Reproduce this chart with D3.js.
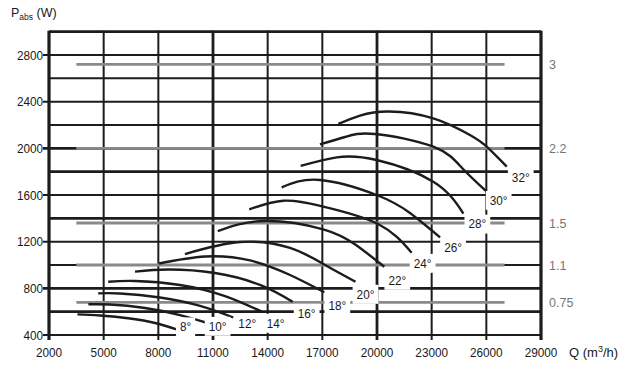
<!DOCTYPE html>
<html>
<head>
<meta charset="utf-8">
<script src="https://cdn.jsdelivr.net/npm/d3@7"></script>
<style>
body { margin: 0; background: #fff; }
text { font-family: "Liberation Sans", Arial, sans-serif; fill: #1a1a1a; }
</style>
</head>
<body>
<div id="chart"></div>
<script>
const W = 633, H = 367
const SX = 0.87 // the printed digits are condensed

// axes
const qTicks = [2000, 5000, 8000, 11000, 14000, 17000, 20000, 23000, 26000, 29000]
const pTicks = [400, 800, 1200, 1600, 2000, 2400, 2800]
const pGrid = [400, 600, 800, 1000, 1200, 1400, 1600, 1800, 2000, 2200, 2400, 2600, 2800, 3000]

// motor limits (kW) and absorbed power lines (W)
const motorKw = ['3', '2.2', '1.5', '1.1', '0.75']
const motorW = [2720, 2000, 1360, 1000, 680]
const motorQ = [3500, 27000]

// blade angle curves [Q m3/h, Pabs W]
const angles = [8, 10, 12, 14, 16, 18, 20, 22, 24, 26, 28, 30, 32]
const c8 = [[3560, 577], [4800, 567], [6450, 541], [7820, 503], [9000, 449]]
const c10 = [[4160, 663], [5350, 661], [7270, 631], [9190, 571], [10650, 505]]
const c12 = [[4700, 757], [5900, 756], [8090, 721], [10290, 649], [12110, 550]]
const c14 = [[5250, 857], [6720, 863], [9190, 829], [11660, 734], [13670, 600]]
const c16 = [[6720, 943], [8530, 961], [11110, 931], [13580, 829], [15370, 685]]
const c18 = [[8040, 1013], [10560, 1073], [13030, 1039], [15230, 914], [17110, 766]]
const c20 = [[9460, 1094], [12480, 1197], [15230, 1146], [17150, 1000], [18820, 857]]
const c22 = [[11260, 1291], [13800, 1377], [17050, 1306], [18850, 1171], [20400, 985]]
const c24 = [[12990, 1477], [14860, 1551], [17050, 1500], [20060, 1351], [21900, 1105]]
const c26 = [[14770, 1666], [16870, 1729], [19980, 1600], [21810, 1446], [23460, 1237]]
const c28 = [[15810, 1849], [17790, 1923], [19980, 1900], [23090, 1714], [24740, 1441]]
const c30 = [[16870, 2034], [18240, 2097], [19890, 2123], [23090, 2014], [24670, 1831], [26020, 1628]]
const c32 = [[17880, 2209], [19070, 2281], [20660, 2316], [23090, 2257], [25100, 2114], [26020, 2014], [27120, 1843]]
const curves = [c8, c10, c12, c14, c16, c18, c20, c22, c24, c26, c28, c30, c32]

// label offset from the curve end, px
const labelOff = [[9, -3], [11, 3], [14, 6], [14, 11], [14, 11], [13, 13], [10, 12], [13, 13], [11, 10], [13, 10], [14, 10], [12, 8], [14, 10]]

const heavyP = [600, 800, 1400, 1800, 2000]
const heavyQ = [11000, 20000]

const svg = d3.select('#chart').append('svg')
	.attr('width', W)
	.attr('height', H)

const x = d3.scaleLinear().domain([2000, 29000]).range([49, 541])
const y = d3.scaleLinear().domain([400, 3000]).range([335, 31.67])

const ink = '#1c1c1c'

// grid
svg.append('g').selectAll('line')
	.data(pGrid)
	.join('line')
	.attr('x1', d => pTicks.includes(d) ? 43 : x(2000))
	.attr('x2', x(29000))
	.attr('y1', d => y(d)).attr('y2', d => y(d))
	.attr('stroke', ink)
	.attr('stroke-width', d => (heavyP.includes(d) || d === 3000) ? 2.8 : 2)

svg.append('g').selectAll('line')
	.data(qTicks)
	.join('line')
	.attr('x1', d => x(d)).attr('x2', d => x(d))
	.attr('y1', y(3000) - 1)
	.attr('y2', y(400) + 5)
	.attr('stroke', ink)
	.attr('stroke-width', d => (d === 2000 || d === 29000) ? 3.2 : heavyQ.includes(d) ? 2.8 : 2)

// motor power lines
svg.append('g').selectAll('line')
	.data(motorW)
	.join('line')
	.attr('x1', x(motorQ[0])).attr('x2', x(motorQ[1]))
	.attr('y1', d => y(d)).attr('y2', d => y(d))
	.attr('stroke', '#8a8a8a')
	.attr('stroke-width', 2.8)

svg.append('g').selectAll('text')
	.data(motorW)
	.join('text')
	.attr('x', 549)
	.attr('y', d => y(d) + 4.5)
	.attr('font-size', '12.5px')
	.style('fill', '#767676')
	.text((d, i) => motorKw[i])

// curves
const line = d3.line()
	.x(d => x(d[0]))
	.y(d => y(d[1]))
	.curve(d3.curveNatural)

svg.append('g').selectAll('path')
	.data(curves)
	.join('path')
	.attr('d', line)
	.attr('fill', 'none')
	.attr('stroke', ink)
	.attr('stroke-width', 2.4)

// angle labels with white boxes
curves.forEach((c, i) => {
	const end = c[c.length - 1]
	const g = svg.append('g')
		.attr('transform', `translate(${x(end[0]) + labelOff[i][0]}, ${y(end[1]) + labelOff[i][1]})`)
	g.append('text')
		.attr('transform', `scale(${SX},1)`)
		.attr('text-anchor', 'middle')
		.attr('dy', '0.36em')
		.attr('font-size', '13.5px')
		.text(angles[i] + '°')
	const bb = g.node().getBBox()
	g.insert('rect', 'text')
		.attr('x', bb.x - 4).attr('y', bb.y - 2)
		.attr('width', bb.width + 8).attr('height', bb.height + 4)
		.attr('fill', '#fff')
})

// tick labels
svg.append('g').selectAll('text')
	.data(qTicks)
	.join('text')
	.attr('transform', d => `translate(${x(d)}, 356.5) scale(${SX},1)`)
	.attr('text-anchor', 'middle')
	.attr('font-size', '13.5px')
	.text(d => d)

svg.append('g').selectAll('text')
	.data(pTicks)
	.join('text')
	.attr('transform', d => `translate(43, ${y(d) + 4.8}) scale(${SX},1)`)
	.attr('text-anchor', 'end')
	.attr('font-size', '13.5px')
	.text(d => d)

// axis titles
const yt = svg.append('text')
	.attr('x', 11).attr('y', 17)
	.attr('font-size', '12.5px')
yt.append('tspan').text('P')
yt.append('tspan').attr('font-size', '8.5px').attr('dy', 3).text('abs')
yt.append('tspan').attr('dy', -3).text(' (W)')

const xt = svg.append('text')
	.attr('x', 569).attr('y', 357)
	.attr('font-size', '13px')
xt.append('tspan').text('Q (m')
xt.append('tspan').attr('font-size', '9px').attr('dy', -5).text('3')
xt.append('tspan').attr('dy', 5).text('/h)')
</script>
</body>
</html>
